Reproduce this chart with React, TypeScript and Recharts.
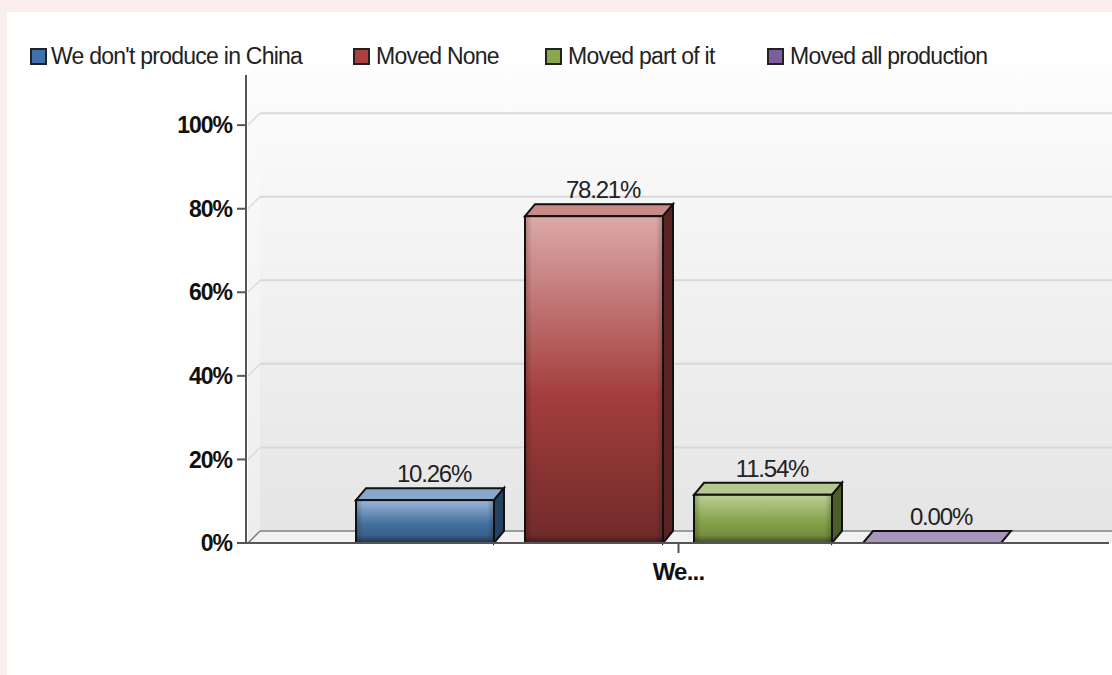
import {
  Bar,
  BarChart,
  LabelList,
  Legend,
  ReferenceArea,
  XAxis,
  YAxis,
} from "recharts";

const categories = ["We..."];
const seriesNames = ["We don't produce in China", "Moved None", "Moved part of it", "Moved all production"];
const seriesValues = [[10.26], [78.21], [11.54], [0.0]];
const yTicks = [0, 20, 40, 60, 80, 100];

// light, mid, dark stops of the front face, then top face and side face
const TONES = [
  { swatch: "#3f72ad", light: "#9db7d8", mid: "#44709f", dark: "#35587f", top: "#88a7cb", side: "#24425f" },
  { swatch: "#a9413f", light: "#dba9a8", mid: "#a33e3c", dark: "#6e2a29", top: "#c98b8a", side: "#5a2322" },
  { swatch: "#8aa64e", light: "#bccf98", mid: "#86a24a", dark: "#6a8239", top: "#b5c98e", side: "#4c5f2a" },
  { swatch: "#7d5f9f", light: "#a896bc", mid: "#a896bc", dark: "#a896bc", top: "#a896bc", side: "#5d4878" },
];

const data = categories.map((name, c) => {
  const row: Record<string, string | number> = { name };
  seriesNames.forEach((s, i) => {
    row[s] = seriesValues[i][c];
  });
  return row;
});

const DX = 10; // depth of the bars
const DY = 12;
const WALL = 12; // depth of the back wall

// eslint-disable-next-line @typescript-eslint/no-explicit-any
function Bar3D({ x, y, width, height, tone }: any) {
  const t = TONES[tone];
  const ink = "#111";
  const right = x + width;
  const bottom = y + height;
  return (
    <g>
      <polygon
        points={`${x},${y} ${x + DX},${y - DY} ${right + DX},${y - DY} ${right},${y}`}
        fill={t.top}
        stroke={ink}
        strokeWidth={2}
      />
      {height > 0 && (
        <>
          <polygon
            points={`${right},${y} ${right + DX},${y - DY} ${right + DX},${bottom - DY} ${right},${bottom}`}
            fill={t.side}
            stroke={ink}
            strokeWidth={2}
          />
          <rect x={x} y={y} width={width} height={height} fill={`url(#front${tone})`} />
          <rect x={x} y={y} width={7} height={height} fill="url(#bevelL)" />
          <rect x={right - 7} y={y} width={7} height={height} fill="url(#bevelR)" />
          <rect x={x} y={bottom - 8} width={width} height={8} fill="url(#bevelB)" />
          <rect x={x} y={y} width={width} height={height} fill="none" stroke={ink} strokeWidth={2} />
        </>
      )}
    </g>
  );
}

// eslint-disable-next-line @typescript-eslint/no-explicit-any
function Wall({ x, y, width, height }: any) {
  const floor = y + height;
  return (
    <g>
      <rect x={x + WALL} y={y - WALL} width={width - WALL + 3} height={height} fill="url(#wall)" />
      <polygon
        points={`${x},${y} ${x + WALL},${y - WALL} ${x + WALL},${floor - WALL} ${x},${floor}`}
        fill="url(#wallSide)"
      />
      <polygon
        points={`${x},${floor} ${x + WALL},${floor - WALL} ${x + width + 3},${floor - WALL} ${x + width + 3},${floor}`}
        fill="#f1f1f1"
      />
    </g>
  );
}

// a zero-height ReferenceArea, so the line stays behind the bars
// eslint-disable-next-line @typescript-eslint/no-explicit-any
function GridLine({ x, y, width }: any) {
  const isFloor = y > 500;
  return (
    <g>
      <line x1={x} y1={y} x2={x + WALL} y2={y - WALL} stroke={isFloor ? "#777" : "#dcdcdc"} strokeWidth={1.5} />
      <line
        x1={x + WALL}
        y1={y - WALL}
        x2={x + width + 3}
        y2={y - WALL}
        stroke={isFloor ? "#9c9c9c" : "#d8d8d8"}
        strokeWidth={2}
      />
    </g>
  );
}

// eslint-disable-next-line @typescript-eslint/no-explicit-any
function ValueLabel({ x, y, width, value }: any) {
  return (
    <text
      x={x + width / 2 + 9}
      y={y - 18}
      textAnchor="middle"
      fontFamily="Liberation Sans"
      fontSize={24}
      letterSpacing={-1.2}
      fill="#222"
    >
      {`${Number(value).toFixed(2)}%`}
    </text>
  );
}

const LEGEND_X = [30, 353, 545, 767];
const LEGEND_GAP = [4, 6, 6, 6];

function LegendRow() {
  return (
    <div style={{ position: "relative", height: 24, width: 1100 }}>
      {seriesNames.map((name, i) => (
        <div key={name} style={{ position: "absolute", left: LEGEND_X[i], top: 0, display: "flex", alignItems: "center" }}>
          <span
            style={{
              width: 13,
              height: 13,
              border: "2px solid #222",
              background: TONES[i].swatch,
              marginRight: LEGEND_GAP[i],
              display: "inline-block",
            }}
          />
          <span style={{ fontFamily: "Liberation Sans", fontSize: 23, letterSpacing: -0.75, color: "#222", whiteSpace: "nowrap" }}>
            {name}
          </span>
        </div>
      ))}
    </div>
  );
}

export default function App() {
  return (
    <div style={{ position: "absolute", left: 0, top: 0, width: 1112, height: 675, background: "#f9eded", overflow: "hidden" }}>
      <div style={{ position: "absolute", left: 7, top: 12, width: 1105, height: 663, background: "#fff" }} />
      <div style={{ position: "absolute", left: 0, top: 0 }}>
        <BarChart
          width={1112}
          height={675}
          data={data}
          margin={{ top: 75, right: 3, bottom: 92, left: 0 }}
          barSize={138}
          barGap={31}
        >
          <defs>
            <linearGradient id="wall" x1="0" y1="0" x2="0" y2="1">
              <stop offset="0" stopColor="#fdfdfd" />
              <stop offset="1" stopColor="#e5e5e5" />
            </linearGradient>
            <linearGradient id="wallSide" x1="0" y1="0" x2="0" y2="1">
              <stop offset="0" stopColor="#fcfcfc" />
              <stop offset="1" stopColor="#ededed" />
            </linearGradient>
            <linearGradient id="bevelL" x1="0" y1="0" x2="1" y2="0">
              <stop offset="0" stopColor="#000" stopOpacity={0.22} />
              <stop offset="1" stopColor="#000" stopOpacity={0} />
            </linearGradient>
            <linearGradient id="bevelR" x1="0" y1="0" x2="1" y2="0">
              <stop offset="0" stopColor="#000" stopOpacity={0} />
              <stop offset="1" stopColor="#000" stopOpacity={0.22} />
            </linearGradient>
            <linearGradient id="bevelB" x1="0" y1="0" x2="0" y2="1">
              <stop offset="0" stopColor="#000" stopOpacity={0} />
              <stop offset="1" stopColor="#000" stopOpacity={0.4} />
            </linearGradient>
            {TONES.map((t, i) => (
              <linearGradient key={i} id={`front${i}`} x1="0" y1="0" x2="0" y2="1">
                <stop offset="0" stopColor={t.light} />
                <stop offset="0.55" stopColor={t.mid} />
                <stop offset="1" stopColor={t.dark} />
              </linearGradient>
            ))}
          </defs>
          <ReferenceArea y1={0} y2={112} ifOverflow="visible" shape={<Wall />} />
          {yTicks.map((t) => (
            <ReferenceArea key={t} y1={t} y2={t} ifOverflow="visible" shape={<GridLine />} />
          ))}
          <XAxis
            dataKey="name"
            height={40}
            padding={{ left: 2 }}
            stroke="#555"
            strokeWidth={2}
            tickSize={10}
            tickMargin={10}
            tick={{ fontFamily: "Liberation Sans", fontSize: 24, letterSpacing: -0.8, fontWeight: 700, fill: "#111" }}
          />
          <YAxis
            width={246}
            domain={[0, 112]}
            ticks={yTicks}
            stroke="#555"
            strokeWidth={2}
            tickSize={9}
            tickMargin={5}
            tickFormatter={(v) => `${v}%`}
            tick={{ fontFamily: "Liberation Sans", fontSize: 23, letterSpacing: -1, fontWeight: 700, fill: "#111" }}
          />
          <Legend
            layout="horizontal"
            verticalAlign="middle"
            align="center"
            wrapperStyle={{ left: 0, top: 43, width: 1100 }}
            content={() => <LegendRow />}
          />
          {seriesNames.map((name, i) => (
            <Bar
              key={name}
              dataKey={name}
              isAnimationActive={false}
              fill={TONES[i].swatch}
              shape={(p: any) => <Bar3D {...p} tone={i} />}
            >
              <LabelList dataKey={name} content={<ValueLabel />} />
            </Bar>
          ))}
        </BarChart>
      </div>
    </div>
  );
}
